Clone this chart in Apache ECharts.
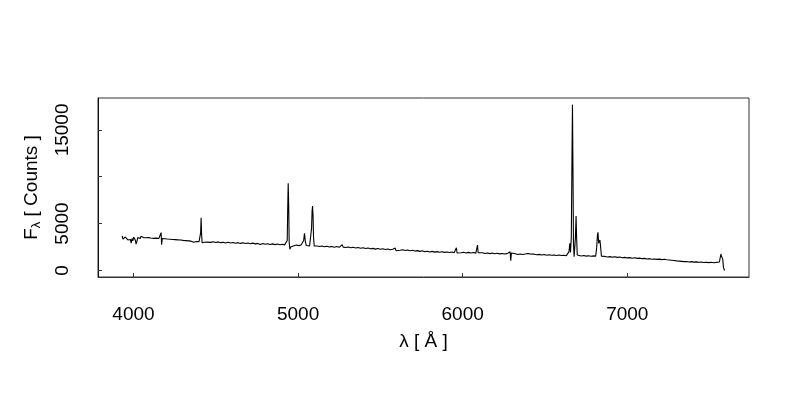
<!DOCTYPE html>
<html>
<head>
<meta charset="utf-8">
<script src="https://cdn.jsdelivr.net/npm/echarts@6/dist/echarts.min.js"></script>
<style>html,body{margin:0;padding:0;background:#fff;}#c{width:800px;height:400px;}</style>
</head>
<body>
<div id="c"></div>
<script>
// Wavelength (Angstrom) and flux (counts)
const wavelength = [
3931,3936,3941,3946,3951,3956,3961,3966,3971,3976,3981,3986,3991,3996,4001,4006,4011,4016,4021,4026,
4031,4036,4041,4046,4051,4056,4061,4068,4075,4082,4090,4098,4106,4114,4122,4130,4138,4146,4154,4160,
4165,4168,4171,4175,4182,4190,4198,4206,4214,4222,4230,4238,4246,4254,4262,4270,4278,4286,4294,4302,
4310,4318,4326,4334,4342,4350,4358,4366,4374,4382,4390,4398,4404,4408,4411,4414,4417,4422,4430,4438,
4446,4455,4470,4485,4500,4515,4530,4545,4560,4575,4590,4605,4620,4635,4650,4665,4680,4695,4710,4725,
4740,4755,4770,4785,4800,4815,4830,4845,4860,4875,4890,4905,4918,4928,4934,4937,4940,4943,4946,4950,
4955,4965,4975,4990,5005,5018,5028,5034,5039,5044,5050,5060,5070,5078,5082,5085,5088,5091,5094,5098,
5105,5115,5130,5145,5160,5175,5190,5205,5220,5235,5250,5262,5268,5274,5290,5305,5320,5335,5350,5365,
5380,5395,5410,5425,5440,5455,5470,5485,5500,5515,5530,5545,5560,5575,5585,5590,5595,5605,5620,5635,
5650,5665,5680,5695,5710,5725,5740,5755,5770,5785,5800,5815,5830,5845,5860,5875,5890,5905,5920,5935,
5948,5958,5962,5966,5975,5990,6005,6020,6035,6050,6065,6080,6086,6090,6094,6105,6120,6135,6150,6165,
6180,6195,6210,6225,6240,6255,6270,6282,6288,6292,6296,6305,6320,6335,6350,6365,6380,6395,6401,6408,
6420,6435,6450,6465,6480,6495,6510,6525,6540,6555,6570,6585,6600,6615,6630,6640,6646,6651,6655,6660,
6664,6667,6670,6673,6677,6681,6685,6689,6692,6696,6705,6720,6735,6750,6765,6780,6795,6808,6814,6819,
6822,6826,6830,6834,6838,6843,6852,6865,6880,6895,6910,6925,6940,6955,6970,6985,7000,7015,7030,7045,
7060,7075,7090,7105,7120,7135,7150,7165,7180,7195,7210,7225,7240,7247,7255,7270,7285,7300,7315,7330,
7345,7360,7375,7390,7405,7420,7435,7450,7465,7480,7495,7510,7525,7540,7552,7560,7565,7569,7572,7576,
7580,7584,7588,7592
];
const flux = [
3690,3350,3500,3150,3560,3400,3620,3250,3050,3450,3300,2900,3400,3150,3550,3350,3250,2800,3100,3500,
3350,3600,3400,3650,3450,3600,3500,3650,3480,3600,3500,3560,3450,3550,3420,3520,3440,3500,3400,3480,
3420,4030,2750,3400,3470,3380,3450,3350,3430,3330,3400,3300,3380,3280,3350,3260,3320,3240,3300,3200,
3270,3180,3240,3150,3220,3120,3180,3000,3150,3080,3150,3050,3100,4000,5630,3800,2950,3100,3000,3120,
3020,3080,2990,3060,2970,3040,2960,3010,2930,3000,2920,2980,2900,2960,2880,2940,2870,2920,2850,2910,
2830,2880,2760,2870,2790,2850,2770,2830,2750,2810,2740,2790,2720,2760,3200,6500,9310,7000,3000,2250,
2500,2680,2620,2700,2640,2700,2800,3200,3960,3100,2650,2700,2620,2750,4500,6300,6880,5800,3500,2600,
2480,2600,2540,2610,2520,2580,2500,2560,2470,2540,2460,2520,2750,2480,2440,2500,2420,2470,2390,2440,
2360,2410,2330,2380,2300,2350,2270,2330,2250,2300,2230,2280,2200,2250,2150,2380,2100,2220,2150,2200,
2120,2170,2090,2140,2060,2110,2030,2090,1990,2050,1970,2030,1950,2000,1930,1990,1920,1970,1900,1960,
1880,2000,2420,1850,1950,1880,1930,1860,1920,1850,1900,1840,1900,2710,1880,1830,1880,1810,1860,1790,
1850,1780,1830,1760,1810,1750,1790,1730,1990,1030,1850,1720,1770,1700,1750,1690,1740,1800,1890,1760,
1690,1730,1660,1710,1640,1690,1620,1670,1610,1650,1590,1640,1580,1620,1570,1600,2000,2890,1900,3500,
12000,17700,11000,3000,1460,1600,3500,5810,3600,1650,1570,1540,1580,1520,1560,1510,1550,1520,2400,3800,
4070,2900,2800,3240,2500,1500,1460,1490,1430,1470,1410,1450,1390,1420,1350,1390,1330,1360,1300,1340,
1280,1310,1250,1280,1220,1250,1190,1220,1170,1200,1150,1180,1130,1240,1110,1080,1050,1010,990,960,
930,950,900,930,880,910,860,890,840,870,830,860,820,850,800,900,1400,1750,1500,1650,
1200,400,100,0
];
const xTicks = [4000, 5000, 6000, 7000];
const yTicks = [0, 5000, 10000, 15000];
const yLabels = [0, 5000, 15000];

const seriesData = wavelength.map((w, i) => [w, flux[i]]);
const FONT = 'Liberation Sans, Arial, Helvetica, sans-serif';
const plain = v => String(v);

const chart = echarts.init(document.getElementById('c'), null, {renderer: 'canvas'});
chart.setOption({
  animation: false,
  backgroundColor: '#ffffff',
  grid: {left: 98, right: 51, top: 98, bottom: 123, show: true, borderColor: '#333', borderWidth: 1, backgroundColor: 'transparent'},
  xAxis: {
    type: 'value', min: 3784.5, max: 7739.5,
    name: 'λ [ Å ]', nameLocation: 'middle', nameGap: 55,
    nameTextStyle: {fontFamily: FONT, fontSize: 19, color: '#000'},
    axisLine: {show: true, onZero: false, lineStyle: {color: '#333', width: 1}},
    axisTick: {show: true, inside: true, length: 4, customValues: xTicks, lineStyle: {color: '#333'}},
    axisLabel: {show: true, customValues: xTicks, formatter: plain, margin: 28, fontFamily: FONT, fontSize: 19, color: '#000'},
    splitLine: {show: false}
  },
  yAxis: {
    type: 'value', min: -708, max: 18408,
    name: '{a|F}{b|λ}{a| [ Counts ]}', nameLocation: 'middle', nameGap: 55, nameRotate: 90,
    nameTextStyle: {fontFamily: FONT, fontSize: 19, color: '#000',
      rich: {
        a: {fontFamily: FONT, fontSize: 19, color: '#000'},
        b: {fontFamily: FONT, fontSize: 13, color: '#000', verticalAlign: 'bottom', padding: [10, 0, 0, 0]}
      }},
    axisLine: {show: true, onZero: false, lineStyle: {color: '#111', width: 1}},
    axisTick: {show: true, inside: true, length: 4, customValues: yTicks, lineStyle: {color: '#333'}},
    axisLabel: {show: true, customValues: yLabels, formatter: plain, rotate: 90, margin: 26, fontFamily: FONT, fontSize: 19, color: '#000'},
    splitLine: {show: false}
  },
  series: [{
    type: 'line', data: seriesData, showSymbol: false, symbol: 'none',
    lineStyle: {color: '#000', width: 1.1}, silent: true
  }]
});
</script>
</body>
</html>
